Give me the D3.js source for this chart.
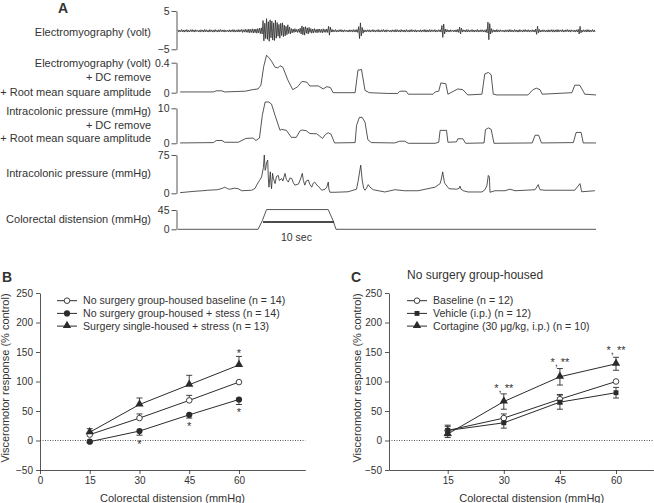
<!DOCTYPE html>
<html><head><meta charset="utf-8">
<script src="https://cdn.jsdelivr.net/npm/d3@7"></script>
<style>
body{margin:0;background:#fff}
svg text{font-family:"Liberation Sans",Arial,sans-serif;fill:#333}
</style>
</head><body>
<svg id="c" width="654" height="503"></svg>
<script>
// ---------------- DATA ----------------
// Panel A: traces (time in seconds)
const emgStep = 0.125;
const emgRaw = [
 0.1,-0.5,0.0,-0.4,0.15,-0.45,0.05,-0.5,
 0.05,-0.4,0.15,-0.5,0.0,-0.45,0.1,-0.4,
 0.15,-0.45,0.05,-0.5,0.1,-0.35,0.0,-0.45,
 0.0,-0.5,0.1,-0.4,0.05,-0.5,0.15,-0.45,
 0.1,-0.45,0.0,-0.5,0.15,-0.4,0.05,-0.5,
 0.05,-0.5,0.15,-0.4,0.0,-0.5,0.1,-0.45,
 0.15,-0.4,0.05,-0.45,0.1,-0.5,0.0,-0.4,
 0.0,-0.45,0.1,-0.5,0.05,-0.4,0.15,-0.5,
 0.1,-0.5,0.05,-0.45,0.15,-0.5,0.1,-0.4,
 0.2,-0.6,0.1,-0.5,0.25,-0.55,0.15,-0.6,
 0.3,-0.7,0.2,-0.6,0.35,-0.75,0.25,-0.65,
 0.3,-0.8,0.4,-0.7,0.5,-0.9,0.6,-1.0,
 2.5,-2.8,1.8,-2.2,3.0,-2.4,2.2,-2.9,
 2.7,-2.0,2.4,-2.6,1.9,-2.7,2.6,-2.1,
 2.0,-1.6,1.5,-2.1,1.8,-1.4,1.9,-1.7,
 1.3,-1.5,1.0,-1.2,1.4,-0.9,0.8,-1.0,
 0.4,-0.7,0.3,-0.6,0.4,-0.5,0.2,-0.6,
 0.3,-0.6,0.5,-1.0,1.1,-1.2,0.8,-1.3,
 0.9,-0.8,0.6,-1.0,0.7,-0.6,0.4,-0.8,
 0.3,-0.7,0.4,-0.6,0.2,-0.7,0.3,-0.6,
 0.3,-0.6,0.2,-0.7,0.35,-0.55,0.2,-0.6,
 0.3,-0.6,1.0,-1.3,0.8,-0.5,0.2,-0.5,
 0.05,-0.4,0.15,-0.5,0.0,-0.45,0.1,-0.4,
 0.15,-0.45,0.05,-0.5,0.1,-0.35,0.0,-0.45,
 0.0,-0.5,0.1,-0.4,0.05,-0.5,0.15,-0.45,
 0.1,-0.5,0.15,-0.6,0.9,-2.2,1.9,-1.5,
 0.7,-0.8,0.1,-0.5,0.0,-0.45,0.1,-0.4,
 0.1,-0.5,0.0,-0.4,0.15,-0.45,0.05,-0.5,
 0.05,-0.4,0.15,-0.5,0.0,-0.45,0.1,-0.4,
 0.15,-0.45,0.05,-0.5,0.1,-0.35,0.0,-0.45,
 0.0,-0.5,0.1,-0.4,0.05,-0.5,0.15,-0.45,
 0.1,-0.45,0.0,-0.5,0.15,-0.4,0.05,-0.5,
 0.05,-0.5,0.15,-0.4,0.0,-0.5,0.1,-0.45,
 0.15,-0.4,0.05,-0.45,0.1,-0.5,0.0,-0.4,
 0.0,-0.45,0.1,-0.5,0.05,-0.4,0.15,-0.5,
 0.1,-0.5,0.05,-0.45,0.15,-0.5,0.1,-0.4,
 0.05,-0.4,0.15,-0.5,0.0,-0.45,0.1,-0.4,
 0.1,-0.5,1.2,-1.9,1.6,-1.0,0.3,-0.5,
 0.15,-0.45,0.05,-0.5,0.1,-0.35,0.0,-0.45,
 0.05,-0.45,0.1,-0.5,0.2,-0.6,0.8,-1.0,
 0.5,-0.5,0.1,-0.4,0.05,-0.5,0.15,-0.45,
 0.1,-0.5,0.0,-0.4,0.15,-0.45,0.05,-0.5,
 0.05,-0.4,0.15,-0.5,0.0,-0.45,0.1,-0.4,
 0.1,-0.5,0.0,-0.5,0.2,-0.7,2.1,-2.5,
 1.7,-1.0,0.4,-0.6,0.1,-0.45,0.05,-0.5,
 0.15,-0.45,0.05,-0.5,0.1,-0.35,0.0,-0.45,
 0.0,-0.5,0.1,-0.4,0.05,-0.5,0.15,-0.45,
 0.1,-0.45,0.0,-0.5,0.15,-0.4,0.05,-0.5,
 0.05,-0.5,0.15,-0.4,0.0,-0.5,0.1,-0.45,
 0.15,-0.4,0.05,-0.45,0.1,-0.5,0.0,-0.4,
 0.1,-0.45,0.05,-0.5,0.3,-1.1,1.0,-0.7,
 0.2,-0.5,0.0,-0.45,0.1,-0.4,0.05,-0.5,
 0.0,-0.45,0.1,-0.5,0.05,-0.4,0.15,-0.5,
 0.1,-0.5,0.05,-0.45,0.15,-0.5,0.1,-0.4,
 0.05,-0.4,0.15,-0.5,0.0,-0.45,0.1,-0.4,
 0.15,-0.45,0.05,-0.5,0.1,-0.35,0.0,-0.45,
 0.05,-0.5,0.1,-0.45,0.2,-1.0,1.0,-0.7,
 0.0,-0.5,0.1,-0.4,0.05,-0.5,0.15,-0.45,
 0.1,-0.5,0.0,-0.4,0.15,-0.45,0.05,-0.5
];
const emgRms = [[0.3,0.01],[5,0.01],[5.4,0.025],[6.2,0.025],[6.6,0.01],[9.5,0.02],[10.5,0.04],[11.3,0.05],[11.7,0.1],[12.1,0.35],[12.5,0.5],[12.9,0.46],[13.2,0.42],[13.7,0.34],[14.1,0.33],[14.4,0.36],[14.8,0.34],[15.5,0.17],[16.2,0.04],[16.9,0.08],[17.5,0.15],[18.2,0.14],[18.6,0.09],[19.8,0.09],[20.5,0.05],[21.0,0.08],[21.5,0.07],[21.9,0.0],[25.0,0.0],[25.4,0.3],[25.9,0.31],[26.4,0.03],[27,0.0],[29.6,-0.01],[31,-0.01],[31.3,0.02],[32.2,0.02],[32.5,-0.02],[36,-0.02],[36.3,0.01],[36.8,0.02],[37.1,0.13],[37.8,0.12],[38.1,-0.02],[39.1,0.03],[39.5,0.05],[40.2,0.04],[40.9,-0.03],[42.9,-0.02],[43.3,0.25],[43.8,0.27],[44.2,0.24],[44.5,-0.02],[45,-0.03],[49.4,-0.03],[50.1,0.04],[50.6,0.06],[51.1,0.04],[51.4,-0.02],[55.6,0.0],[56.0,0.1],[56.7,0.1],[57.2,0.02],[57.4,-0.02],[59,-0.03]];
const icpRms = [[0.3,0.1],[5,0.2],[5.4,0.8],[6.2,0.8],[6.6,0.3],[8.5,0.3],[9.6,1.4],[10.6,1.5],[11.0,0.8],[11.5,1.5],[11.9,8],[12.3,11.8],[12.8,11.8],[13.2,11.2],[13.7,8],[14.4,3.7],[14.6,4.0],[15.3,3.7],[16.0,1.7],[16.7,1.7],[17.2,3.5],[17.5,3.8],[18.1,3.6],[18.6,2.8],[19.6,2.7],[20.4,1.4],[20.8,2.5],[21.2,3.0],[21.6,2.6],[22.1,0.1],[25.0,0.2],[25.2,5.1],[25.6,7.4],[26.0,7.4],[26.4,6],[26.8,1],[27.3,0.2],[30.6,0.1],[31.3,0.6],[32.0,0.6],[32.5,0.0],[36.3,0.0],[36.8,0.3],[37.0,3.7],[37.9,3.7],[38.1,0.3],[39.3,0.4],[39.5,1.3],[40.2,1.3],[40.6,0.0],[43.2,0.1],[43.4,3.9],[43.8,4.4],[44.2,4.0],[44.6,0.0],[50.0,0.1],[50.4,2.3],[50.9,2.3],[51.3,0.1],[55.8,0.2],[56.2,3.1],[56.9,3.1],[57.2,0.1],[59,0.1]];
const icp = [[0.3,1.3],[2.4,4],[3.5,5],[4.2,6],[5.6,7],[6.3,10],[6.6,12],[7.0,9],[7.3,8],[8.0,10],[8.5,9],[9.0,5],[10.4,6],[10.9,10],[11.1,16],[11.5,25],[11.8,32],[12.05,50],[12.18,75],[12.3,45],[12.38,48],[12.5,60],[12.66,65],[12.75,30],[12.84,12],[13.03,42],[13.12,20],[13.2,9],[13.35,39],[13.45,30],[13.7,19],[13.9,33],[14.16,35],[14.3,25],[14.64,29],[14.8,24],[15.1,39],[15.3,27],[15.57,22],[15.8,30],[16.05,29],[16.3,20],[16.5,16],[17.0,18],[17.3,28],[17.54,39],[17.7,25],[17.9,16],[18.1,24],[18.4,26],[18.6,18],[18.87,12],[19.1,20],[19.3,22],[19.6,16],[19.8,14],[20.28,6],[20.75,8],[21.0,12],[21.21,22],[21.3,8],[21.45,2],[22.16,2],[24.0,3],[25.2,8],[25.45,26],[25.79,55],[26.0,26],[26.2,10],[26.39,6],[26.6,10],[26.86,17],[27.1,12],[27.57,7],[29.2,2.6],[30.6,7],[32.0,5],[33.9,5],[36.27,12],[37.0,19],[37.2,30],[37.36,42],[37.6,22],[37.69,19],[38.25,9],[39.34,8],[39.7,10],[39.8,14],[39.95,8],[40.27,5],[40.93,2.6],[42.9,2.6],[43.33,7],[43.6,15],[43.8,35],[43.95,32],[44.04,2],[44.74,5],[46.15,5],[46.86,8],[47.57,5],[49.0,6],[50.4,7],[50.85,17],[51.0,10],[51.1,7],[51.8,6],[53.9,6],[56.0,6],[56.74,19],[56.9,8],[56.98,3],[58.85,5]];
const crd = [[0,0],[11.3,0],[11.9,20],[12.5,46],[21.2,46],[21.9,20],[22.3,0],[59,0]];
const scaleBarStart = 12, scaleBarLen = 10, scaleBarLevel = 17;

// Panels B and C
const doses = [15, 30, 45, 60];
const bBaseline = [10, 38, 68, 99],   bBaselineErr = [3, 7, 8.5, 0];
const bStress   = [-2, 16, 43.5, 69.5], bStressErr = [2, 7, 5.5, 8.5];
const bSurgery  = [14, 61, 94.5, 128], bSurgeryErr = [6, 11, 16, 14.5];
const bNames = ["No surgery group-housed baseline (n = 14)", "No surgery group-housed + stess (n = 14)", "Surgery single-housed + stress (n = 13)"];
const bStars = [[60,152,"*"],[60,51,"*"],[45,28,"*"],[30,-2,"*"]];

const cBaseline = [17, 38, 70, 100],  cBaselineErr = [7, 7, 8, 0];
const cVehicle  = [17, 30, 65, 81],   cVehicleErr = [9, 9, 12, 9];
const cCortagine= [11, 66, 108, 130], cCortagineErr = [6, 13, 14, 11];
const cNames = ["Baseline (n = 12)", "Vehicle (i.p.) (n = 12)", "Cortagine (30 \u03bcg/kg, i.p.) (n = 10)"];
const cStars = [[30,93,"*, **"],[45,137,"*, **"],[60,156,"*, **"]];
const yTicks = [-50, 0, 50, 100, 150, 200, 250];

// ---------------- DRAW ----------------
const svg = d3.select("#c");
const INK = "#2b2b2b";
const fmt = d3.format("~g");

// Panel A
const tx = d3.scaleLinear().domain([0, 59]).range([178, 596]);
svg.append("text").attr("x", 58).attr("y", 13).attr("font-size", 14).attr("font-weight", "bold").text("A");

const tracks = [
  {data: emgRaw.map((v,i)=>[i*emgStep, v]), dom:[-5,5], rng:[49.3,11], lab:["Electromyography (volt)"], ly:[32], w:0.8},
  {data: emgRms, dom:[0,0.4], rng:[92.7,62.7], lab:["Electromyography (volt)","+ DC remove","+ Root mean square amplitude"], ly:[63,77.5,92], w:0.8},
  {data: icpRms, dom:[0,10], rng:[143.3,108.3], lab:["Intracolonic pressure (mmHg)","+ DC remove","+ Root mean square amplitude"], ly:[111.5,125,138.5], w:0.8},
  {data: icp, dom:[0,75], rng:[193.3,155], lab:["Intracolonic pressure (mmHg)"], ly:[173], w:0.8},
  {data: crd, dom:[0,45], rng:[229.3,210], lab:["Colorectal distension (mmHg)"], ly:[219], w:0.8}
];
tracks.forEach(tr => {
  const y = d3.scaleLinear().domain(tr.dom).range(tr.rng);
  tr.y = y;
  const ax = svg.append("g").attr("transform", "translate(176.5,0)")
    .call(d3.axisLeft(y).tickValues(tr.dom).tickSize(5).tickSizeOuter(0).tickPadding(2).tickFormat(fmt));
  ax.selectAll("path,line").attr("stroke", INK).attr("stroke-width", 0.8);
  ax.selectAll("text").attr("font-size", 10.5).attr("fill", "#333").attr("font-family", "Liberation Sans, Arial, sans-serif");
  svg.append("path").datum(tr.data)
    .attr("d", d3.line().x(d=>tx(d[0])).y(d=>y(d[1])))
    .attr("fill", "none").attr("stroke", INK).attr("stroke-width", tr.w).attr("stroke-linejoin", "round");
  tr.lab.forEach((l,i) => {
    svg.append("text").attr("x", 151).attr("y", tr.ly[i]).attr("dy", "0.35em")
      .attr("text-anchor", "end").attr("font-size", 11).text(l);
  });
});
// 10 sec scale bar
const yCrd = tracks[4].y;
svg.append("line").attr("x1", tx(scaleBarStart)).attr("x2", tx(scaleBarStart + scaleBarLen))
  .attr("y1", yCrd(scaleBarLevel)).attr("y2", yCrd(scaleBarLevel)).attr("stroke", "#111").attr("stroke-width", 1.6);
svg.append("text").attr("x", tx(scaleBarStart + scaleBarLen/2) - 2).attr("y", 237).attr("dy", "0.35em")
  .attr("text-anchor", "middle").attr("font-size", 10.5).text("10 sec");

// Panels B/C
function marker(g, type, x, y) {
  if (type === "open") g.append("circle").attr("cx", x).attr("cy", y).attr("r", 2.8).attr("fill", "#fff").attr("stroke", INK).attr("stroke-width", 0.9);
  else if (type === "dot") g.append("circle").attr("cx", x).attr("cy", y).attr("r", 3.1).attr("fill", INK);
  else if (type === "tri") g.append("path").attr("d", d3.symbol(d3.symbolTriangle, 30)()).attr("transform", `translate(${x},${y-0.5})`).attr("fill", INK);
  else if (type === "sq") g.append("path").attr("d", d3.symbol(d3.symbolSquare, 24)()).attr("transform", `translate(${x},${y})`).attr("fill", INK);
}

function panel(cfg) {
  const g = svg.append("g");
  const x = d3.scaleLinear().domain(cfg.xDom).range(cfg.xRng);
  const y = d3.scaleLinear().domain([-50, 250]).range([470, 293]);
  const ya = g.append("g").attr("transform", `translate(${cfg.xRng[0]},0)`)
    .call(d3.axisLeft(y).tickValues(yTicks).tickSize(4).tickSizeOuter(0).tickPadding(3).tickFormat(fmt));
  const xa = g.append("g").attr("transform", "translate(0,470)")
    .call(d3.axisBottom(x).tickValues(cfg.xTicks).tickSize(4).tickSizeOuter(0).tickPadding(3).tickFormat(fmt));
  [ya, xa].forEach(a => {
    a.selectAll("path,line").attr("stroke", INK).attr("stroke-width", 0.8);
    a.selectAll("text").attr("font-size", 10).attr("fill", "#333").attr("font-family", "Liberation Sans, Arial, sans-serif");
  });
  g.append("line").attr("x1", cfg.xRng[0]).attr("x2", cfg.xRng[1]).attr("y1", y(0)).attr("y2", y(0))
    .attr("stroke", INK).attr("stroke-width", 0.8).attr("stroke-dasharray", "1,1.5");
  cfg.series.forEach(s => {
    g.append("path").datum(doses.map((d,i)=>[d, s.v[i]]))
      .attr("d", d3.line().x(d=>x(d[0])).y(d=>y(d[1])))
      .attr("fill", "none").attr("stroke", INK).attr("stroke-width", 1);
  });
  cfg.series.forEach(s => {
    doses.forEach((d,i) => {
      const e = s.e[i]; if (!e) return;
      const ends = s.dir === "up" ? [s.v[i]+e] : s.dir === "down" ? [s.v[i]-e] : [s.v[i]+e, s.v[i]-e];
      ends.forEach(v2 => {
        g.append("line").attr("x1", x(d)).attr("x2", x(d)).attr("y1", y(s.v[i])).attr("y2", y(v2)).attr("stroke", INK).attr("stroke-width", 0.9);
        g.append("line").attr("x1", x(d)-3).attr("x2", x(d)+3).attr("y1", y(v2)).attr("y2", y(v2)).attr("stroke", INK).attr("stroke-width", 0.9);
      });
    });
  });
  cfg.series.forEach(s => doses.forEach((d,i) => marker(g, s.m, x(d), y(s.v[i]))));
  cfg.series.forEach((s,i) => {
    const ly = 300.7 + i*12.7;
    g.append("line").attr("x1", cfg.legX).attr("x2", cfg.legX+20).attr("y1", ly).attr("y2", ly).attr("stroke", INK).attr("stroke-width", 1);
    marker(g, s.m, cfg.legX+10, ly);
    g.append("text").attr("x", cfg.legX+26).attr("y", ly).attr("dy", "0.35em").attr("font-size", 10.6).text(s.name);
  });
  cfg.stars.forEach(st => {
    g.append("text").attr("x", x(st[0])).attr("y", y(st[1]) + 6).attr("text-anchor", "middle").attr("font-size", 11).attr("fill", "#333").text(st[2]);
  });
  g.append("text").attr("x", cfg.xTitleX).attr("y", 498).attr("dy", "0.35em").attr("text-anchor", "middle").attr("font-size", 11).text("Colorectal distension (mmHg)");
  g.append("text").attr("transform", `translate(${cfg.yTitleX},378) rotate(-90)`).attr("dy", "0.35em").attr("text-anchor", "middle").attr("font-size", 11).text("Visceromotor response (% control)");
  g.append("text").attr("x", cfg.letX).attr("y", 277).attr("dy", "0.35em").attr("font-size", 14).attr("font-weight", "bold").text(cfg.letter);
}

panel({
  letter: "B", letX: 2, xDom: [0, 80], xRng: [40, 305.3], xTicks: [0, 15, 30, 45, 60],
  legX: 57, xTitleX: 172.5, yTitleX: 5,
  series: [
    {name: bNames[0], v: bBaseline, e: bBaselineErr, m: "open", dir: "up"},
    {name: bNames[1], v: bStress, e: bStressErr, m: "dot", dir: "down"},
    {name: bNames[2], v: bSurgery, e: bSurgeryErr, m: "tri", dir: "up"}
  ],
  stars: bStars
});
panel({
  letter: "C", letX: 351, xDom: [-0.7, 70], xRng: [389, 653.4], xTicks: [15, 30, 45, 60],
  legX: 407, xTitleX: 531.7, yTitleX: 357,
  series: [
    {name: cNames[0], v: cBaseline, e: cBaselineErr, m: "open", dir: "both"},
    {name: cNames[1], v: cVehicle, e: cVehicleErr, m: "sq", dir: "both"},
    {name: cNames[2], v: cCortagine, e: cCortagineErr, m: "tri", dir: "both"}
  ],
  stars: cStars
});
svg.append("text").attr("x", 407).attr("y", 275).attr("dy", "0.35em").attr("font-size", 12).text("No surgery group-housed");
</script>
</body></html>
